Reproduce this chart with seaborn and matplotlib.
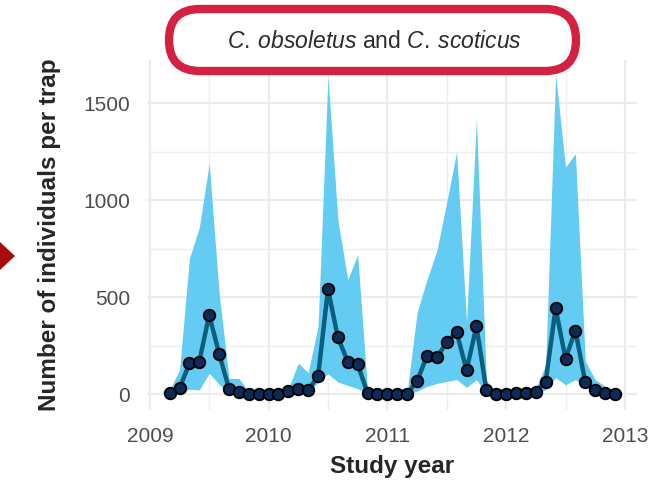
# Culicoides 월별 포획 수 (C. obsoletus + C. scoticus)

import pandas as pd
import matplotlib as mpl
import matplotlib.pyplot as plt
import seaborn as sns
from matplotlib.patches import FancyBboxPatch, Polygon
from matplotlib.transforms import IdentityTransform
from matplotlib.ticker import MultipleLocator

##### 1. 데이터 #####
# 2009-03 ~ 2012-12 월별
months = ['2009-03', '2009-04', '2009-05', '2009-06', '2009-07', '2009-08', '2009-09', '2009-10', '2009-11', '2009-12',
          '2010-01', '2010-02', '2010-03', '2010-04', '2010-05', '2010-06', '2010-07', '2010-08', '2010-09', '2010-10', '2010-11', '2010-12',
          '2011-01', '2011-02', '2011-03', '2011-04', '2011-05', '2011-06', '2011-07', '2011-08', '2011-09', '2011-10', '2011-11', '2011-12',
          '2012-01', '2012-02', '2012-03', '2012-04', '2012-05', '2012-06', '2012-07', '2012-08', '2012-09', '2012-10', '2012-11', '2012-12']

mean_count = [5, 31, 158, 168, 409, 208, 28, 10, 3, 1,
              1, 2, 14, 27, 22, 91, 541, 292, 168, 154, 5, 1,
              1, 0, 2, 67, 197, 190, 267, 320, 123, 350, 22, 2,
              3, 4, 6, 12, 65, 443, 183, 328, 60, 20, 8, 2]

upper = [20, 125, 700, 860, 1190, 520, 82, 80, 15, 5,
         4, 6, 30, 160, 112, 350, 1640, 900, 590, 720, 15, 4,
         3, 2, 12, 420, 590, 740, 990, 1250, 370, 1420, 70, 8,
         5, 7, 12, 30, 150, 1650, 1170, 1240, 170, 75, 40, 6]

lower = [0, 12, 25, 22, 108, 50, 5, 3, 0, 0,
         0, 0, 3, 8, 10, 60, 105, 62, 45, 28, 1, 0,
         0, 0, 0, 15, 40, 55, 65, 75, 35, 74, 4, 0,
         0, 0, 1, 3, 22, 85, 48, 75, 40, 12, 3, 0]

df = pd.DataFrame({'month': pd.to_datetime(months), 'count': mean_count,
                   'lower': lower, 'upper': upper})
df['year'] = df['month'].dt.year + (df['month'].dt.month - 1) / 12

##### 2. 시각화 #####
sns.set_theme(style='whitegrid')
plt.rcParams['font.family'] = ['Liberation Sans', 'DejaVu Sans']
plt.rcParams['mathtext.fontset'] = 'custom'
plt.rcParams['mathtext.it'] = 'Liberation Sans:italic'
plt.rcParams['mathtext.rm'] = 'Liberation Sans'

fig = plt.figure(figsize=(6.66, 4.83), dpi=100)
ax = fig.add_axes([0.2207, 0.1511, 0.7363, 0.7247])

# 신뢰구간 밴드
ax.fill_between(df['year'], df['lower'], df['upper'], color='#57C8F2', alpha=0.92, linewidth=0, zorder=2)

# 평균선 + 점
sns.lineplot(data=df, x='year', y='count', ax=ax, color='#0B5E7E', linewidth=3.2, zorder=3)
sns.scatterplot(data=df, x='year', y='count', ax=ax, color='#0B2C58', edgecolor='black',
                linewidth=1.4, s=68, zorder=4)

ax.set_xlim(2008.976, 2013.105)
ax.set_ylim(-82, 1723)
ax.xaxis.set_major_locator(MultipleLocator(1))
ax.xaxis.set_minor_locator(MultipleLocator(0.5))
ax.yaxis.set_major_locator(MultipleLocator(500))
ax.yaxis.set_minor_locator(MultipleLocator(250))
ax.set_xticks([2009, 2010, 2011, 2012, 2013])
ax.set_xticklabels(['2009', '2010', '2011', '2012', '2013'])

ax.grid(which='major', color='#EBEBEB', linewidth=1.6)
ax.grid(which='minor', color='#EFEFEF', linewidth=1.0)
ax.set_axisbelow(True)
for s in ax.spines.values():
    s.set_visible(False)
ax.tick_params(axis='both', which='both', length=0, labelsize=15, labelcolor='#4D4D4D')
ax.tick_params(axis='x', pad=12)
ax.tick_params(axis='y', pad=12)

ax.set_xlabel('Study year', fontsize=17.5, fontweight='bold', labelpad=7)
ax.set_ylabel('Number of individuals per trap', fontsize=17.5, fontweight='bold', labelpad=16)

# 제목 박스 (둥근 빨간 테두리)
box = FancyBboxPatch((169, 412), 407, 62, boxstyle='round,pad=0,rounding_size=31',
                     transform=IdentityTransform(), facecolor='white', edgecolor='#D42142',
                     linewidth=6, zorder=10)
fig.patches.append(box)
fig.text(374 / 666, 1 - 41 / 483, r'$\it{C.\:obsoletus}$ and $\it{C.\:scoticus}$',
         ha='center', va='center', fontsize=16.5, color='#2B2B2B', zorder=11)

# 왼쪽 화살표 끝
tri = Polygon([[0, 483 - 242], [0, 483 - 270], [15, 483 - 256]], closed=True,
              transform=IdentityTransform(), facecolor='#A80C0C', edgecolor='none')
fig.patches.append(tri)

fig.savefig('out.png', dpi=100)
